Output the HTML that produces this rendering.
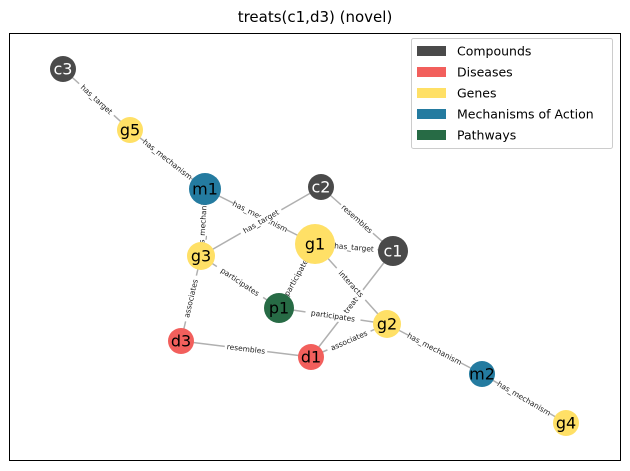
<!DOCTYPE html>
<html><head><meta charset="utf-8"><style>
body{margin:0;background:#fff}
svg{display:block;font-family:"DejaVu Sans","Liberation Sans",sans-serif}
</style></head><body>
<svg id="g" width="630" height="471">
<rect x="0" y="0" width="630" height="471" fill="#fff"/>
<text x="315" y="22" text-anchor="middle" font-size="15">treats(c1,d3) (novel)</text>
<rect x="9.5" y="33.5" width="611" height="427" fill="none" stroke="#000" stroke-width="1"/>
<g id="edges"></g><g id="nodes"></g>
<g>
<rect x="411.5" y="38.5" width="201" height="110" rx="2" fill="#fff" fill-opacity="0.8" stroke="#ccc"/>
<g id="legend"></g>
</g>
</svg>
<script>
const nodeIds=["c3","g5","m1","c2","g1","c1","g3","p1","g2","d3","d1","m2","g4"];
const nodeX=[63,130,205,321,315,393,201,279,387,181,311,482,566];
const nodeY=[69,130,189,187,244,251,256,308,324,341,357,374,423];
const nodeR=[13,13,16,13,20,15,14,15,14,13,13,13,13];
const edgeFrom=["c3","g5","m1","m1","c2","c2","g1","g1","c1","g1","g3","g3","p1","d3","d1","g2","m2"];
const edgeTo=["g5","m1","g1","g3","g3","c1","c1","p1","d1","g2","p1","d3","g2","d1","g2","m2","g4"];
const edgeLabels=["has_target","has_mechanism","has_mechanism","has_mechanism","has_target","resembles","has_target","participates","treats","interacts","participates","associates","participates","resembles","associates","has_mechanism","has_mechanism"];
const legendNames=["Compounds","Diseases","Genes","Mechanisms of Action","Pathways"];
const colors={c:"#4a4a4a",d:"#f25f5c",g:"#ffe066",m:"#247ba0",p:"#276b45"};
const legendColors=["#4a4a4a","#f25f5c","#ffe066","#247ba0","#276b45"];
const NS="http://www.w3.org/2000/svg";
function mk(t,a,p){const e=document.createElementNS(NS,t);for(const k in a)e.setAttribute(k,a[k]);p.appendChild(e);return e;}
const E=document.getElementById('edges'),N=document.getElementById('nodes'),L=document.getElementById('legend');
function pos(id){const i=nodeIds.indexOf(id);return [nodeX[i],nodeY[i]];}
edgeFrom.forEach((f,i)=>{
  const [x1,y1]=pos(f),[x2,y2]=pos(edgeTo[i]);
  const ln=mk('line',{x1,y1,x2,y2,stroke:'#b0b0b0','stroke-width':1.5},E);
  
  
});
edgeFrom.forEach((f,i)=>{
  const [x1,y1]=pos(f),[x2,y2]=pos(edgeTo[i]);
  let ang=Math.atan2(y2-y1,x2-x1)*180/Math.PI;
  if(ang>90)ang-=180;if(ang<-90)ang+=180;
  const mx=(x1+x2)/2,my=(y1+y2)/2;
  const g=mk('g',{transform:`translate(${mx},${my}) rotate(${ang})`},E);
  
  
  const w=edgeLabels[i].length*4.3+4;
  mk('rect',{x:-w/2,y:-5,width:w,height:10,fill:'#fff'},g);
  const t=mk('text',{x:0,y:2.5,'text-anchor':'middle','font-size':7.5,fill:'#222'},g);
  t.textContent=edgeLabels[i];
});
nodeIds.forEach((id,i)=>{
  const g=mk('g',{},N);
  
  
  mk('circle',{cx:nodeX[i],cy:nodeY[i],r:nodeR[i],fill:colors[id[0]]},g);
  const t=mk('text',{x:nodeX[i],y:nodeY[i]+5.5,'text-anchor':'middle','font-size':16,fill:id[0]==='c'?'#fff':'#000'},g);
  t.textContent=id;
});
legendNames.forEach((n,i)=>{
  const y=51+i*21;
  const g=mk('g',{},L);
  
  
  mk('rect',{x:417,y:y-5,width:29,height:10,fill:legendColors[i]},g);
  const t=mk('text',{x:457,y:y+4.5,'font-size':12.5},g);
  t.textContent=n;
});
</script>
</body></html>
